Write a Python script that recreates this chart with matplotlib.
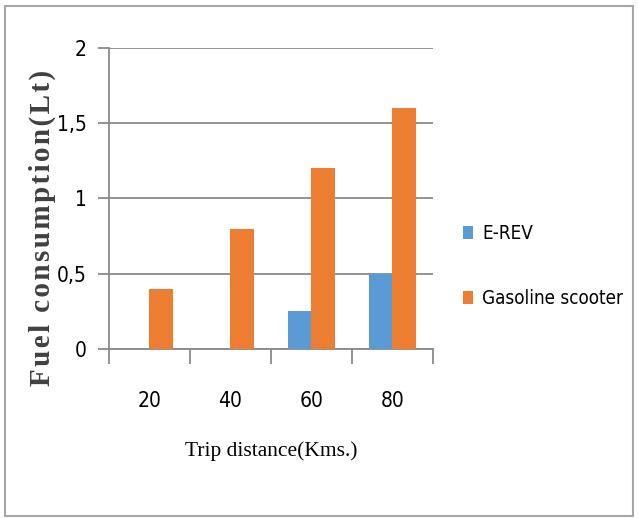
import matplotlib.pyplot as plt
import numpy as np

# trip distance categories and fuel used per trip
distances = ['20', '40', '60', '80']
erev = [0, 0, 0.25, 0.5]
gasoline = [0.4, 0.8, 1.2, 1.6]
y_ticks = [0, 0.5, 1, 1.5, 2]
y_tick_labels = ['0', '0,5', '1', '1,5', '2']

tick_font = dict(family='DejaVu Sans', stretch='condensed')

fig = plt.figure(figsize=(6.38, 5.19), dpi=100)
ax = fig.add_axes([0.1708, 0.3276, 0.5078, 0.58])

x = np.arange(len(distances))
w = 0.29
ax.bar(x - w/2, erev, w, color='#5B9BD5', label='E-REV', zorder=3)
ax.bar(x + w/2, gasoline, w, color='#ED7D31', label='Gasoline scooter', zorder=3)

ax.set_xlim(-0.5, len(distances) - 0.5)
ax.set_ylim(0, 2)

# gridlines
ax.set_yticks(y_ticks)
ax.set_yticklabels(y_tick_labels, fontsize=15, **tick_font)
ax.yaxis.grid(True, color='#8a8a8a', lw=1.3, zorder=0)
ax.tick_params(axis='y', length=8, width=1.3, color='#8a8a8a', pad=8)

# category boundaries get the tick marks, labels sit in between
ax.set_xticks(np.arange(-0.5, len(distances)), minor=False)
ax.set_xticklabels([])
ax.set_xticks(x, minor=True)
ax.set_xticklabels(distances, minor=True, fontsize=15, **tick_font)
ax.tick_params(axis='x', which='major', length=11, width=1.3, color='#8a8a8a')
ax.tick_params(axis='x', which='minor', length=0, pad=30)

for s in ['top', 'right']:
    ax.spines[s].set_visible(False)
for s in ['left', 'bottom']:
    ax.spines[s].set_color('#8a8a8a')
    ax.spines[s].set_linewidth(1.3)

ax.set_xlabel('Trip distance(Kms.)', family='Liberation Serif', fontsize=15.5, labelpad=22)

# spaced-out vertical title
ylab = '\u200a'.join('Fuel consumption(Lt)')
fig.text(0.067, 0.56, ylab, rotation=90, family='Liberation Serif',
         fontsize=21, fontweight='bold', color='#404040', ha='center', va='center')

ax.legend(loc='center left', bbox_to_anchor=(0.7, 0.488), bbox_transform=fig.transFigure,
          frameon=False, prop=dict(size=13.5, **tick_font),
          handlelength=0.5, handleheight=0.7, handletextpad=0.5, labelspacing=2.45)

fig.patches.append(plt.Rectangle((0.0078, 0.0058), 0.984, 0.983, transform=fig.transFigure,
                                 fill=False, edgecolor='#a6a6a6', lw=1.5))

plt.savefig('out.png', dpi=100)
plt.close()
